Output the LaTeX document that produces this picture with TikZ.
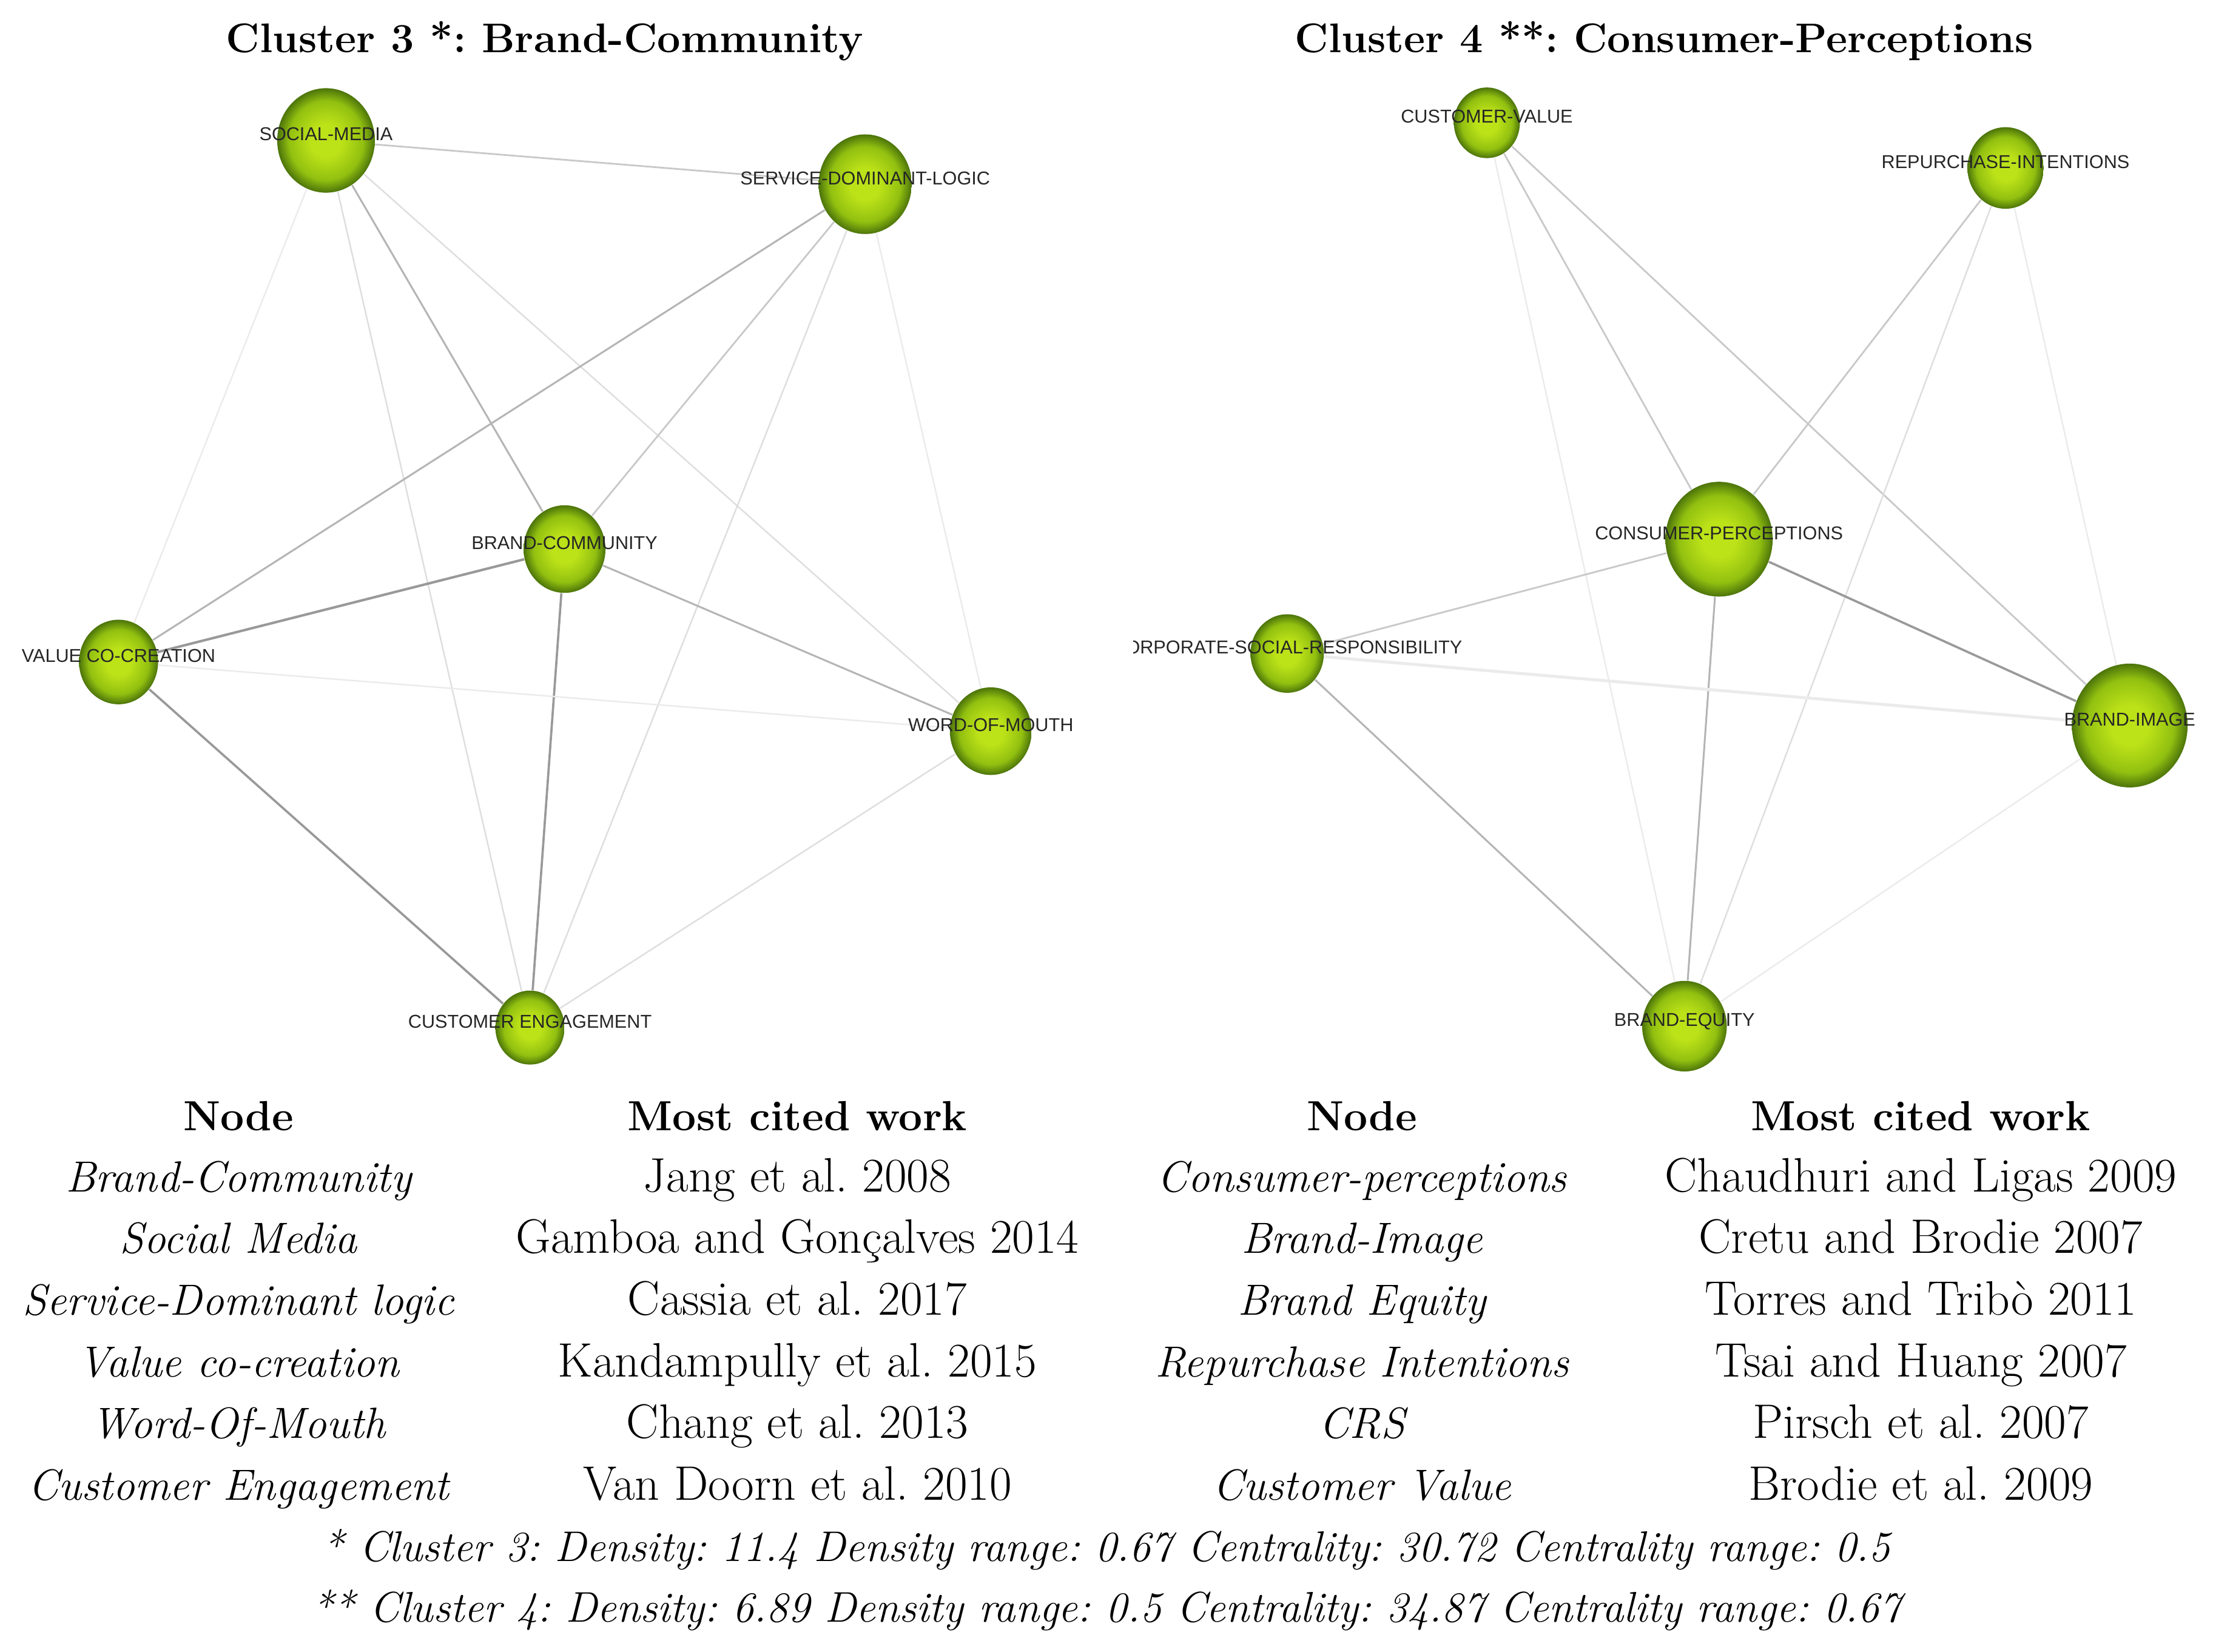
\documentclass[tikz,border=0pt]{standalone}
\usepackage{fontspec}
\newfontfamily\gephifont{Liberation Sans}
\usetikzlibrary{shapes.geometric,backgrounds}
\frenchspacing

\definecolor{kwhi}{RGB}{188,226,24}
\definecolor{kwmid}{RGB}{146,192,16}
\definecolor{kwlo}{RGB}{76,116,10}
\pgfdeclareradialshading{kwball}{\pgfpoint{0bp}{0bp}}{color(0bp)=(kwhi); color(8bp)=(kwhi); color(19bp)=(kwmid); color(25bp)=(kwlo); color(50bp)=(kwlo)}

\tikzset{
  kw/.style={ellipse, shading=kwball, draw=none, inner sep=0pt,
    minimum width=#1*0.04cm, minimum height=#1*0.0428cm, label distance=0pt},
  kwlabel/.style={font=\gephifont\fontsize{7.5}{8}\selectfont, text=black!85,
    inner sep=0pt, text height=5.4pt, text depth=0pt, yshift=2.6pt},
  e1/.style={draw=black!40, line width=0.9pt},
  e2/.style={draw=black!29, line width=0.75pt},
  e3/.style={draw=black!21, line width=0.7pt},
  e4/.style={draw=black!13, line width=0.6pt},
  e5/.style={draw=black!8, line width=0.6pt},
  ttl/.style={anchor=base, inner sep=0pt, font=\fontsize{16.7}{20}\selectfont\bfseries},
  hdr/.style={anchor=base, inner sep=0pt, font=\fontsize{17}{20}\selectfont\bfseries},
  cell/.style={anchor=base, inner sep=0pt, font=\fontsize{19.5}{22}\selectfont},
  kwcell/.style={anchor=base, inner sep=0pt, font=\fontsize{17.6}{20}\selectfont\itshape},
  foot/.style={anchor=base, inner sep=0pt, font=\fontsize{17.3}{20}\selectfont\itshape}
}

\begin{document}
\begin{tikzpicture}[x=0.02cm,y=-0.02cm]
\useasboundingbox (0,0) rectangle (1568,1170);

% titles
\node[ttl] (title3) at (386,37) {Cluster 3 *: Brand-Community};
\node[ttl] (title4) at (1179,37) {Cluster 4 **: Consumer-Perceptions};

% cluster 3
\node[kw=34.6, label={[kwlabel]center:SOCIAL-MEDIA}] (sm) at (231,99.5) {};
\node[kw=33, label={[kwlabel]center:SERVICE-DOMINANT-LOGIC}] (sdl) at (613,130.5) {};
\node[kw=29, label={[kwlabel]center:BRAND-COMMUNITY}] (bc) at (400,389) {};
\node[kw=28, label={[kwlabel]center:VALUE CO-CREATION}] (vcc) at (84,469) {};
\node[kw=29, label={[kwlabel]center:WORD-OF-MOUTH}] (wom) at (702,518) {};
\node[kw=24.5, label={[kwlabel]center:CUSTOMER ENGAGEMENT}] (ce) at (375.5,728) {};

\begin{pgfonlayer}{background}
\draw[e3] (sm) -- (sdl);
\draw[e5] (sm) -- (vcc);
\draw[e4] (sm) -- (ce);
\draw[e2] (sm) -- (bc);
\draw[e4] (sm) -- (wom);
\draw[e2] (sdl) -- (vcc);
\draw[e3] (sdl) -- (bc);
\draw[e4] (sdl) -- (ce);
\draw[e5] (sdl) -- (wom);
\draw[e1, line width=1pt] (bc) -- (vcc);
\draw[e1] (bc) -- (ce);
\draw[e2] (bc) -- (wom);
\draw[e5] (vcc) -- (wom);
\draw[e1] (vcc) -- (ce);
\draw[e4] (wom) -- (ce);
\end{pgfonlayer}

% cluster 4
\begin{scope}
\clip (803,40) rectangle (1556,775);
\node[kw=23.4, label={[kwlabel]center:CUSTOMER-VALUE}] (cv) at (1053.5,87) {};
\node[kw=27, label={[kwlabel]center:REPURCHASE-INTENTIONS}] (ri) at (1421,119) {};
\node[kw=38, label={[kwlabel]center:CONSUMER-PERCEPTIONS}] (cp) at (1218,382) {};
\node[kw=26, label={[kwlabel]center:CORPORATE-SOCIAL-RESPONSIBILITY}] (csr) at (912,463) {};
\node[kw=41, label={[kwlabel]center:BRAND-IMAGE}] (bi) at (1509,514) {};
\node[kw=30, label={[kwlabel]center:BRAND-EQUITY}] (be) at (1193.5,727) {};
\end{scope}

\begin{pgfonlayer}{background}
\draw[e3] (cv) -- (cp);
\draw[e3] (cv) -- (bi);
\draw[e5] (cv) -- (be);
\draw[e3] (ri) -- (cp);
\draw[e4] (ri) -- (be);
\draw[e5] (ri) -- (bi);
\draw[e3] (cp) -- (csr);
\draw[e1] (cp) -- (bi);
\draw[e2] (cp) -- (be);
\draw[e5, line width=1.2pt] (csr) -- (bi);
\draw[e2] (csr) -- (be);
\draw[e5] (bi) -- (be);
\end{pgfonlayer}

% tables
\node[hdr] (h3a) at (169,800.8) {Node};
\node[hdr] (h3b) at (565,800.8) {Most cited work};
\node[kwcell] (n31) at (169,844.5) {Brand-Community};
\node[cell] (w31) at (565,844.5) {Jang et al. 2008};
\node[kwcell] (n32) at (169,888) {Social Media};
\node[cell] (w32) at (565,888) {Gamboa and Gonçalves 2014};
\node[kwcell] (n33) at (169,931.7) {Service-Dominant logic};
\node[cell] (w33) at (565,931.7) {Cassia et al. 2017};
\node[kwcell] (n34) at (169,975.3) {Value co-creation};
\node[cell] (w34) at (565,975.3) {Kandampully et al. 2015};
\node[kwcell] (n35) at (169,1019) {Word-Of-Mouth};
\node[cell] (w35) at (565,1019) {Chang et al. 2013};
\node[kwcell] (n36) at (169,1062.6) {Customer Engagement};
\node[cell] (w36) at (565,1062.6) {Van Doorn et al. 2010};

\node[hdr] (h4a) at (965,800.8) {Node};
\node[hdr] (h4b) at (1361,800.8) {Most cited work};
\node[kwcell] (n41) at (965,844.5) {Consumer-perceptions};
\node[cell] (w41) at (1361,844.5) {Chaudhuri and Ligas 2009};
\node[kwcell] (n42) at (965,888) {Brand-Image};
\node[cell] (w42) at (1361,888) {Cretu and Brodie 2007};
\node[kwcell] (n43) at (965,931.7) {Brand Equity};
\node[cell] (w43) at (1361,931.7) {Torres and Tribò 2011};
\node[kwcell] (n44) at (965,975.3) {Repurchase Intentions};
\node[cell] (w44) at (1361,975.3) {Tsai and Huang 2007};
\node[kwcell] (n45) at (965,1019) {CRS};
\node[cell] (w45) at (1361,1019) {Pirsch et al. 2007};
\node[kwcell] (n46) at (965,1062.6) {Customer Value};
\node[cell] (w46) at (1361,1062.6) {Brodie et al. 2009};

% footnotes
\node[foot] (f3) at (784,1106) {* Cluster 3: Density: 11.4 Density range: 0.67 Centrality: 30.72 Centrality range: 0.5};
\node[foot] (f4) at (784,1149) {** Cluster 4: Density: 6.89 Density range: 0.5 Centrality: 34.87 Centrality range: 0.67};
\end{tikzpicture}
\end{document}
